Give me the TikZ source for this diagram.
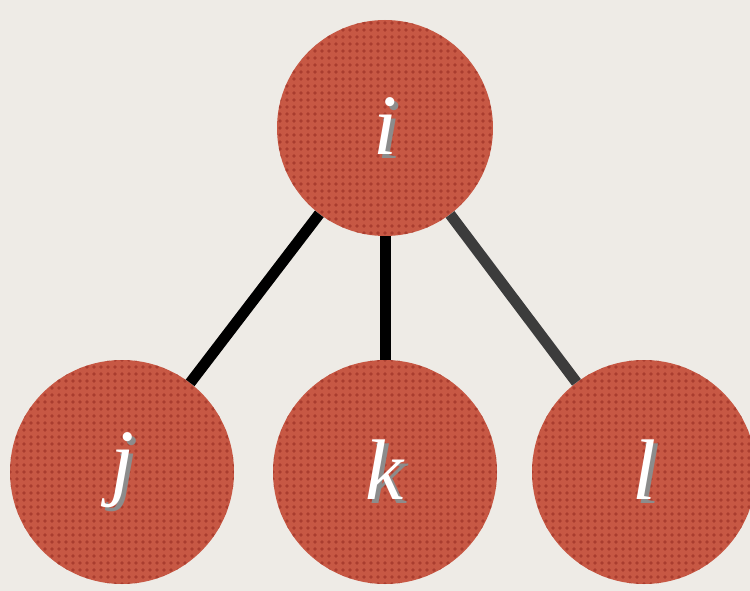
\documentclass[tikz,border=0pt]{standalone}
\usepackage{fontspec}
\setmainfont{Liberation Serif}
\definecolor{paper}{HTML}{EEEBE6}
\definecolor{brick}{HTML}{C75844}
\definecolor{brickdot}{HTML}{A93D2F}
\definecolor{edgegray}{HTML}{3C3C3C}
% letter with a soft shadow
\newcommand{\shadowletter}[1]{%
  \rlap{\kern4pt\raisebox{-4pt}{\textcolor{black!45}{#1}}}\textcolor{white}{#1}}
\tikzset{
  vertex/.style={circle, fill=brick, inner sep=0pt,
    path picture={
      \foreach \dx in {-16,...,16}
        \foreach \dy in {-16,...,16}
          \fill[brickdot] ([shift={(\dx*7pt,\dy*7pt)}]path picture bounding box.center) circle (1.9pt);
    },
    font=\fontsize{86}{90}\selectfont\itshape},
  link/.style={line width=11pt},
}
\begin{document}
\begin{tikzpicture}[x=1pt, y=-1pt]
    % background
    \fill[paper] (0,0) rectangle (750,591);
    \useasboundingbox (0,0) rectangle (750,591);
    % vertices
    \node[vertex, minimum size=216pt] (i) at (385,128) {\shadowletter{i}};
    \node[vertex, minimum size=224pt] (j) at (122,472) {\shadowletter{j}};
    \node[vertex, minimum size=224pt] (k) at (385,472) {\shadowletter{k}};
    \node[vertex, minimum size=224pt] (l) at (644,472) {\shadowletter{l}};
    % edges
    \draw[link] (i) -- (j);
    \draw[link] (i) -- (k);
    \draw[link, edgegray] (i) -- (l);
\end{tikzpicture}
\end{document}
